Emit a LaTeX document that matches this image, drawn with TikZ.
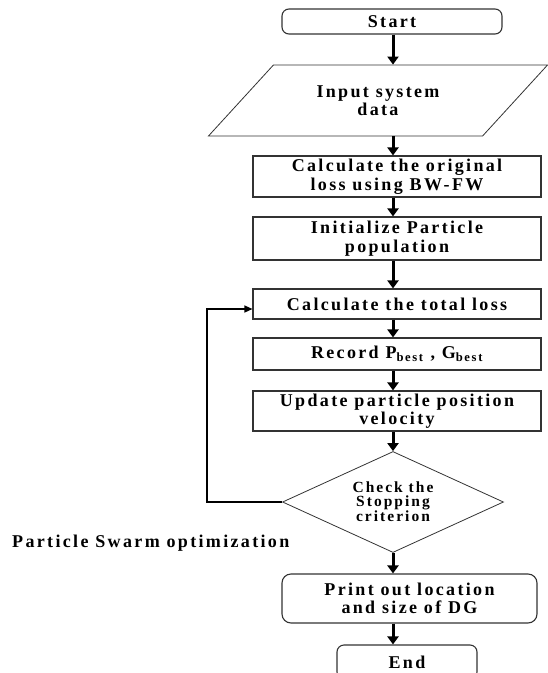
\documentclass[tikz,border=0pt]{standalone}
\usepackage{fontspec}
\setmainfont{Liberation Serif}[LetterSpace=13]
\usepackage{tikz}
\usetikzlibrary{shapes.geometric,arrows.meta}

\begin{document}
\begin{tikzpicture}[x=1pt,y=-1pt,
  every node/.style={font=\bfseries\fontsize{18}{18.5}\selectfont, align=center, inner sep=0pt},
  box/.style={draw=black!80, line width=1.1pt, minimum width=288pt},
  term/.style={draw=black!80, line width=1.1pt, rounded corners=7pt},
  io/.style={draw=black!80, line width=0.8pt, trapezium, trapezium left angle=38.6,
    trapezium right angle=141.4, trapezium stretches=true, minimum width=340pt, minimum height=71pt},
  decide/.style={draw=black!80, line width=0.8pt, diamond, aspect=2.2, minimum width=221pt,
    minimum height=101pt, font=\bfseries\fontsize{15.5}{14}\selectfont},
  flow/.style={line width=3pt, -{Triangle[length=8pt,width=11pt]}},
  back/.style={line width=1.3pt, -{Triangle[length=8pt,width=7pt]}}]

\clip (0,0) rectangle (548,673);

\node[term, minimum width=220pt, minimum height=25pt] (start) at (392,21.5) {Start};
\node[io] (input) at (378,100.5) {Input system\\data};
\node[box, minimum height=41pt] (calc) at (397,176.5) {Calculate the original\\loss using BW-FW};
\node[box, minimum height=43pt] (init) at (397,238.5) {Initialize Particle\\population};
\node[box, minimum height=30pt] (total) at (397,304) {Calculate the total loss};
\node[box, minimum height=32pt] (record) at (397,354) {Record P\textsubscript{best} , G\textsubscript{best}};
\node[box, minimum height=40pt] (update) at (397,411) {Update particle position\\velocity};
\node[decide] (dia) at (393,502) {Check the\\Stopping\\criterion};
\node[anchor=west] (psolabel) at (12,543) {Particle Swarm optimization};
\node[term, rounded corners=9pt, minimum width=255pt, minimum height=49pt] (print) at (409.5,598.5) {Print out location\\and size of DG};
\node[term, minimum width=140pt, minimum height=34pt] (stop) at (407,662) {End};

% main flow, straight down
\foreach \a/\b in {start/input, input/calc, calc/init, init/total, total/record,
                   record/update, update/dia, dia/print, print/stop}
  \draw[flow] (\a.south -| dia.center) -- (\b.north -| dia.center);

% back to the loss
\draw[back] (dia.west) -- ++(-75,0) |- ([yshift=-5pt]total.west);

\end{tikzpicture}
\end{document}
